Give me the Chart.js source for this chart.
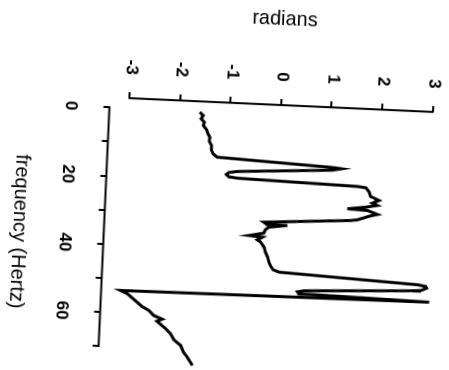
<!DOCTYPE html>
<html>
<head>
<meta charset="utf-8">
<script src="https://cdn.jsdelivr.net/npm/chart.js@4"></script>
<style>
  html, body { margin: 0; padding: 0; background: #fff; overflow: hidden; width: 449px; height: 370px; }
  #wrap { position: absolute; left: 14.5px; top: -39.5px; width: 420px; height: 449px; transform: rotate(92.6deg); }
</style>
</head>
<body>
<div id="wrap"><canvas id="phaseChart" width="420" height="449"></canvas></div>
<script>
// phase spectrum
var freqHz = [0.17, 1.09, 2.08, 3.04, 4.02, 5.24, 6.39, 7.36, 8.54, 9.77, 11.03, 12.18, 13.12,
  14.61, 14.87, 15.40, 17.04, 17.45, 18.06, 18.71, 19.01, 19.84,
  20.11, 21.36, 22.59, 23.66, 24.53, 25.14, 25.79, 26.51, 26.74, 27.78, 28.39, 28.92, 29.60, 29.89,
  31.54, 32.17, 32.20, 32.94, 33.75, 34.77, 35.64, 35.96, 36.79, 37.45, 38.87, 40.31, 41.74, 43.20, 44.43, 45.36, 45.99,
  47.84, 48.23, 48.71, 49.47, 49.69, 51.11, 51.49, 52.05, 52.10, 52.79,
  53.45, 54.34, 56.67, 57.86, 58.94, 60.34, 61.31, 61.97, 64.08, 65.48, 67.19, 68.77, 70.70, 72.11, 74.48];
var phaseRad = [-1.60, -1.53, -1.57, -1.50, -1.52, -1.45, -1.42, -1.38, -1.39, -1.34, -1.34, -1.30, -1.22,
  1.07, 1.25, 1.07, -0.81, -0.97, -1.02, -0.97, -0.80, 1.58,
  1.75, 1.82, 1.85, 2.02, 1.89, 1.99, 1.76, 1.40, 1.80, 2.00, 1.84, 1.74, 1.61, 1.48,
  -0.24, -0.17, 0.23, -0.13, -0.20, -0.23, -0.52, -0.25, -0.35, -0.28, -0.21, -0.18, -0.13, -0.10, -0.06, -0.01, 0.11,
  2.86, 3.02, 3.04, 2.93, 2.73, 0.62, 0.49, 0.52, 0.75, 3.10,
  -3.01, -2.87, -2.67, -2.57, -2.43, -2.33, -2.16, -2.26, -2.08, -1.98, -1.91, -1.77, -1.71, -1.63, -1.52];

var freqTicks = [0, 10, 20, 30, 40, 50, 60, 70];
var freqLabels = [0, 20, 40, 60];
var radTicks = [-3, -2, -1, 0, 1, 2, 3];

var points = [];
for (var i = 0; i < freqHz.length; i++) {
  points.push({x: freqHz[i], y: phaseRad[i]});
}

// R style axis line: only from first to last tick
var axisLines = {
  id: 'axisLines',
  afterDraw: function (chart) {
    var ctx = chart.ctx, x = chart.scales.x, y = chart.scales.y;
    ctx.save();
    ctx.strokeStyle = '#000';
    ctx.lineWidth = 2;
    ctx.beginPath();
    ctx.moveTo(x.getPixelForValue(freqTicks[0]) - 1, x.top);
    ctx.lineTo(x.getPixelForValue(freqTicks[freqTicks.length - 1]) + 1, x.top);
    ctx.moveTo(y.right, y.getPixelForValue(radTicks[0]) + 1);
    ctx.lineTo(y.right, y.getPixelForValue(radTicks[radTicks.length - 1]) - 1);
    ctx.stroke();
    ctx.restore();
  }
};

var font = "'Liberation Sans', Arial, Helvetica, sans-serif";

var ctx = document.getElementById('phaseChart').getContext('2d');
var chart = new Chart(ctx, {
  type: 'scatter',
  data: {
    datasets: [{
      data: points,
      showLine: true,
      borderColor: '#000',
      borderWidth: 3,
      pointRadius: 0,
      tension: 0
    }]
  },
  options: {
    responsive: false,
    animation: false,
    devicePixelRatio: 1,
    layout: { padding: { top: 0.7, right: 16.7, bottom: 0, left: 0 } },
    plugins: { legend: { display: false }, tooltip: { enabled: false } },
    scales: {
      x: {
        type: 'linear',
        min: -3,
        max: 78,
        afterBuildTicks: function (s) { s.ticks = freqTicks.map(function (v) { return {value: v}; }); },
        afterFit: function (s) { s.height = 105.6; s.paddingLeft = 0; s.paddingRight = 0; },
        border: { display: false },
        grid: { drawOnChartArea: false, drawTicks: true, tickLength: 6, color: '#000', lineWidth: 2 },
        ticks: {
          color: '#000',
          padding: 22.8,
          maxRotation: 0,
          autoSkip: false,
          font: { family: font, size: 17, weight: 'bold' },
          callback: function (v) { return freqLabels.indexOf(v) >= 0 ? String(v) : ''; }
        },
        title: { display: true, text: 'frequency (Hertz)', color: '#000', padding: { top: 0, bottom: 8.3 }, font: { family: font, size: 20 } }
      },
      y: {
        min: -3.39,
        max: 3.39,
        afterBuildTicks: function (s) { s.ticks = radTicks.map(function (v) { return {value: v}; }); },
        afterFit: function (s) { s.width = 127.1; s.paddingTop = 0; s.paddingBottom = 0; },
        border: { display: false },
        grid: { drawOnChartArea: false, drawTicks: true, tickLength: 6, color: '#000', lineWidth: 2 },
        ticks: {
          color: '#000',
          padding: 17.5,
          autoSkip: false,
          font: { family: font, size: 17, weight: 'bold' },
          callback: function (v) { return String(v); }
        },
        title: { display: true, text: 'radians', color: '#000', padding: { top: 29.5, bottom: 0 }, font: { family: font, size: 20 } }
      }
    }
  },
  plugins: [axisLines]
});
</script>
</body>
</html>
